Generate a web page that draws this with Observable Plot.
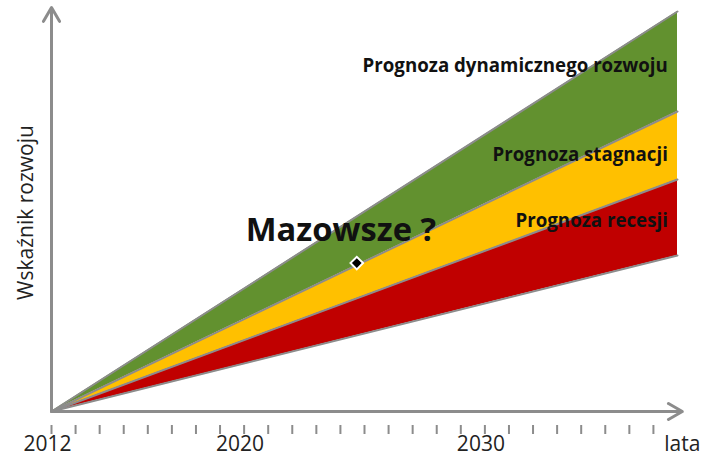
<!DOCTYPE html>
<html>
<head>
<meta charset="utf-8">
<script src="https://cdn.jsdelivr.net/npm/d3@7"></script>
<script src="https://cdn.jsdelivr.net/npm/@observablehq/plot@0.6"></script>
<style>
  html, body { margin: 0; padding: 0; background: #fff; }
  svg { display: block; }
</style>
</head>
<body>
<div id="chart"></div>
<script>
// ---- data ----
const years = [2012, 2038];
const dynamiczny = [0, 100];   // top edge of green band
const stagnacja = [0, 75];     // green / yellow boundary
const recesja = [0, 58];       // yellow / red boundary
const dolna = [0, 39];         // bottom edge of red band

const tickYears = [2012,2013,2014,2015,2016,2017,2018,2019,2020,2021,2022,2023,2024,
                   2025,2026,2027,2028,2029,2030,2031,2032,2033,2034,2035,2036,2037];
const labeledYears = [2012, 2020, 2030];
const axisEnd = {x: 2038.2, y: 101};
const xAxisTitle = "lata";
const yAxisTitle = "Wskaźnik rozwoju";

const bandLabels = [
  {text: "Prognoza dynamicznego rozwoju", year: 2037.6, value: 85},
  {text: "Prognoza stagnacji", year: 2037.6, value: 62.75},
  {text: "Prognoza recesji", year: 2037.6, value: 46.25}
];
const region = {name: "Mazowsze ?", year: 2024.68, value: 37.1, labelYear: 2024.02, labelValue: 42.75};

const colors = {green: "#62912f", yellow: "#ffc000", red: "#c00000", gray: "#8c8c8c", text: "#111"};

// ---- table ----
const rows = years.map((yr, i) => ({
  year: yr, top: dynamiczny[i], stag: stagnacja[i], rec: recesja[i], bottom: dolna[i]
}));

const font = "'Open Sans', 'Noto Sans', sans-serif";

const chart = Plot.plot({
  width: 702,
  height: 455,
  style: {fontFamily: font, background: "#fff", overflow: "visible"},
  x: {domain: [2012, 2038], range: [51, 677]},
  y: {domain: [0, 100], range: [411, 11], axis: null},
  marks: [
    Plot.areaY(rows, {x: "year", y1: "stag", y2: "top", fill: colors.green}),
    Plot.areaY(rows, {x: "year", y1: "rec", y2: "stag", fill: colors.yellow}),
    Plot.areaY(rows, {x: "year", y1: "bottom", y2: "rec", fill: colors.red}),
    Plot.lineY(rows, {x: "year", y: "top", stroke: colors.gray, strokeWidth: 2}),
    Plot.lineY(rows, {x: "year", y: "stag", stroke: colors.gray, strokeWidth: 2}),
    Plot.lineY(rows, {x: "year", y: "rec", stroke: colors.gray, strokeWidth: 2}),
    Plot.lineY(rows, {x: "year", y: "bottom", stroke: colors.gray, strokeWidth: 2}),
    Plot.axisX({ticks: tickYears, tickSize: 9, tickFormat: () => "", stroke: colors.gray, strokeWidth: 2, label: null}),
    Plot.arrow([0], {x1: () => years[0], y1: () => 0, x2: () => axisEnd.x, y2: () => 0,
      stroke: colors.gray, strokeWidth: 3, headLength: 8, headAngle: 60}),
    Plot.arrow([0], {x1: () => years[0], y1: () => 0, x2: () => years[0], y2: () => axisEnd.y,
      stroke: colors.gray, strokeWidth: 3, headLength: 8, headAngle: 60}),
    Plot.text(labeledYears, {x: d => d, y: () => 0, text: d => String(d), dx: -4, dy: 39,
      lineAnchor: "bottom", fontSize: 21, fill: "#222"}),
    Plot.text([xAxisTitle], {x: () => axisEnd.x, y: () => 0, text: d => d, dy: 39,
      lineAnchor: "bottom", fontSize: 21, fill: "#222"}),
    Plot.text([yAxisTitle], {x: () => years[0], y: () => 49.75, text: d => d, dx: -25,
      rotate: -90, fontSize: 21, fill: "#222"}),
    Plot.text(bandLabels, {x: "year", y: "value", text: "text", textAnchor: "end",
      lineAnchor: "bottom", fontSize: 18.7, fontWeight: "bold", fill: colors.text}),
    Plot.text([region], {x: "labelYear", y: "labelValue", text: "name", lineAnchor: "bottom",
      fontSize: 32.7, fontWeight: "bold", fill: colors.text}),
    Plot.dot([region], {x: "year", y: "value", symbol: "square", rotate: 45, r: 5,
      fill: "#000", stroke: "#fff", strokeWidth: 2})
  ]
});

document.getElementById("chart").appendChild(chart);
</script>
</body>
</html>
